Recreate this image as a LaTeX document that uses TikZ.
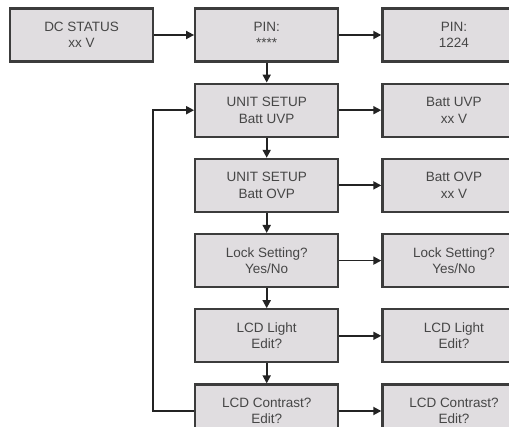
\documentclass[tikz,border=0pt]{standalone}
\usepackage{fontspec}
\setmainfont{Liberation Sans}
\usetikzlibrary{positioning}
\usetikzlibrary{arrows.meta}
\definecolor{screenfill}{RGB}{224,221,224}
\definecolor{screenline}{RGB}{60,60,60}
\definecolor{screentext}{RGB}{70,70,70}
\definecolor{linkline}{RGB}{35,35,35}
\newcommand{\widthscreen}{143pt}
\newcommand{\heightscreen}{53pt}
\tikzset{
    screen/.style={draw=screenline, fill=screenfill, line width=2.2pt, rectangle,
        minimum width=\widthscreen, minimum height=\heightscreen, align=center,
        text=screentext, font=\fontsize{13.5}{16.5}\selectfont},
    link/.style={draw=linkline, line width=1.8pt, -{Triangle[length=8pt,width=8pt]}},
}

\begin{document}
\begin{tikzpicture}
    \useasboundingbox (0,0) rectangle (509pt,-427pt);
    \clip (0,0) rectangle (509pt,-427pt);

    \node[screen] (dc) at (81.5pt,-35pt) {DC STATUS\\xx V};
    \node[screen, right=40pt of dc] (pin) {PIN:\\****};
    \node[screen, right=42pt of pin] (pinok) {PIN:\\1224};

    \node[screen, below=20pt of pin] (setuvp) {UNIT SETUP\\Batt UVP};
    \node[screen, below=20pt of setuvp] (setovp) {UNIT SETUP\\Batt OVP};
    \node[screen, below=20pt of setovp] (lock) {Lock Setting?\\Yes/No};
    \node[screen, below=20pt of lock] (light) {LCD Light\\Edit?};
    \node[screen, below=20pt of light] (contrast) {LCD Contrast?\\Edit?};

    \node[screen, right=42pt of setuvp] (uvp) {Batt UVP\\xx V};
    \node[screen, right=42pt of setovp] (ovp) {Batt OVP\\xx V};
    \node[screen, right=42pt of lock] (lockedit) {Lock Setting?\\Yes/No};
    \node[screen, right=42pt of light] (lightedit) {LCD Light\\Edit?};
    \node[screen, right=42pt of contrast] (contrastedit) {LCD Contrast?\\Edit?};

    \draw[link] (dc) -- (pin);
    \draw[link] (pin) -- (pinok);
    \draw[link] (setuvp) -- (uvp);
    \draw[link] (setovp) -- (ovp);
    \draw[link] (lock) -- (lockedit);
    \draw[link] (light) -- (lightedit);
    \draw[link] (contrast) -- (contrastedit);

    \draw[link] (pin) -- (setuvp);
    \draw[link] (setuvp) -- (setovp);
    \draw[link] (setovp) -- (lock);
    \draw[link] (lock) -- (light);
    \draw[link] (light) -- (contrast);

    \draw[link] (contrast.west) -- ++(-41pt,0) |- (setuvp.west);
\end{tikzpicture}
\end{document}
